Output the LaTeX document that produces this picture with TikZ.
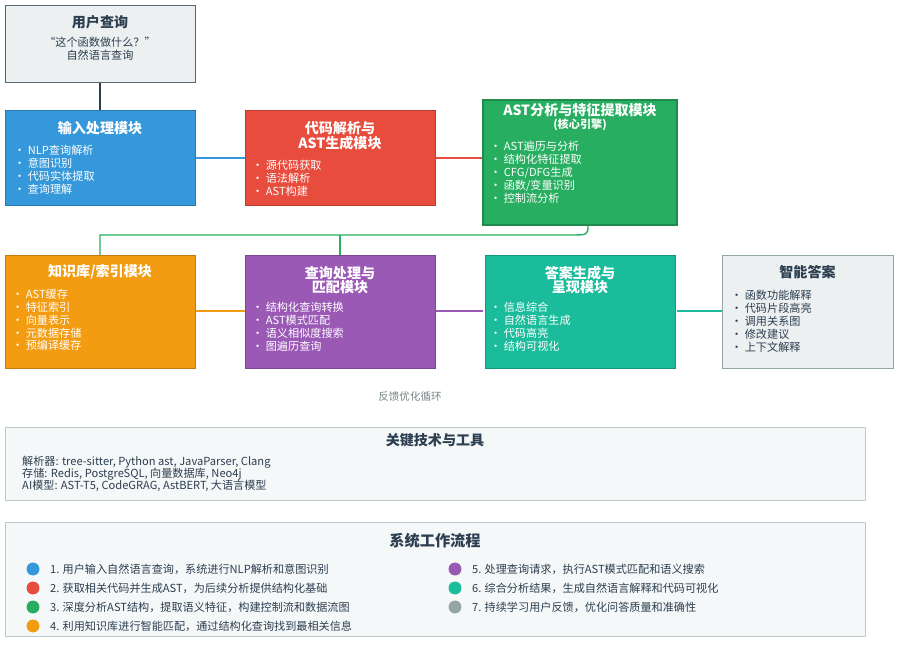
\documentclass[tikz,border=0pt]{standalone}
\usepackage{fontspec}
\setmainfont{Noto Sans CJK SC}
\usetikzlibrary{positioning}
\definecolor{cblue}{HTML}{3498DB}
\definecolor{cred}{HTML}{E74C3C}
\definecolor{cgreen}{HTML}{27AE60}
\definecolor{corange}{HTML}{F39C12}
\definecolor{cpurple}{HTML}{9B59B6}
\definecolor{cteal}{HTML}{1ABC9C}
\definecolor{cgray}{HTML}{95A5A6}
\definecolor{cdark}{HTML}{2C3E50}
\definecolor{clight}{HTML}{ECF0F1}
\tikzset{
  module/.style={draw=#1!80!black, fill=#1, text=white, minimum width=5.7cm, inner sep=0pt},
  title/.style={font=\bfseries\fontsize{12}{12.5}\selectfont, text=white, align=center},
  items/.style={font=\fontsize{9.5}{11}\selectfont, text=white, align=left, anchor=west, inner sep=0pt},
  link/.style={line width=1.2pt, draw=#1},
  panel/.style={draw=cgray!60, fill=clight!50, line width=0.6pt},
  flowstep/.style={font=\fontsize{9.5}{11}\selectfont, text=cdark, anchor=west},
  dot/.style={circle, fill=#1, minimum size=11pt, inner sep=0pt},
}
\begin{document}
\begin{tikzpicture}[x=0.03cm, y=-0.03cm]
	\useasboundingbox (0,0) rectangle (900,646);
	
	% Liaisons
	\draw[link=cdark] (100,82) -- (100,110);
	\draw[link=cblue] (195,158) -- (245,158);
	\draw[link=cred] (435,158) -- (483,158);
	\draw[link=cgreen] (588,225) .. controls (588,235) .. (570,235) -- (100,235) -- (100,255);
	\draw[link=cgreen] (340,235) -- (340,255);
	\draw[link=corange] (195,311) -- (245,311);
	\draw[link=cpurple] (435,311) -- (483,311);
	\draw[link=cteal] (677,311) -- (722,311);
	
	% Requete utilisateur
	\node[draw=cdark!80, fill=clight, line width=0.8pt, minimum width=5.7cm, minimum height=2.31cm] (query) at (100,43.5) {};
	\node[font=\bfseries\fontsize{12}{13}\selectfont, text=cdark] (qtitle) at (100,22) {用户查询};
	\node[font=\fontsize{9.5}{11}\selectfont, text=cdark, align=center, below=0pt of qtitle] (qtext) {“这个函数做什么？”\\自然语言查询};
	
	% Modules ligne 1
	\node[module=cblue, minimum height=2.85cm] (input) at (100,157.5) {};
	\node[title] (intitle) at (100,128) {输入处理模块};
	\node[items] at (14,170) {• NLP查询解析\\• 意图识别\\• 代码实体提取\\• 查询理解};
	
	\node[module=cred, minimum height=2.85cm] (parse) at (340,157.5) {};
	\node[title] at (340,136) {代码解析与\\AST生成模块};
	\node[items] at (252,178) {• 源代码获取\\• 语法解析\\• AST构建};
	
	\node[module=cgreen, line width=1.5pt, minimum width=5.82cm, minimum height=3.75cm] (ast) at (580,162.5) {};
	\node[title] at (580,117) {AST分析与特征提取模块\\[-2pt]{\fontsize{9.5}{10}\selectfont (核心引擎)}};
	\node[items] at (490,172) {• AST遍历与分析\\• 结构化特征提取\\• CFG/DFG生成\\• 函数/变量识别\\• 控制流分析};
	
	% Modules ligne 2
	\node[module=corange, minimum height=3.39cm] (kb) at (100,311.5) {};
	\node[title] at (100,272) {知识库/索引模块};
	\node[items] at (12,320) {• AST缓存\\• 特征索引\\• 向量表示\\• 元数据存储\\• 预编译缓存};
	
	\node[module=cpurple, minimum height=3.39cm] (match) at (340,311.5) {};
	\node[title] at (340,280) {查询处理与\\匹配模块};
	\node[items] at (252,327) {• 结构化查询转换\\• AST模式匹配\\• 语义相似度搜索\\• 图遍历查询};
	
	\node[module=cteal, minimum height=3.39cm] (gen) at (580,311.5) {};
	\node[title] at (580,280) {答案生成与\\呈现模块};
	\node[items] at (490,327) {• 信息综合\\• 自然语言生成\\• 代码高亮\\• 结构可视化};
	
	\node[draw=cgray, fill=clight, line width=0.8pt, minimum width=5.13cm, minimum height=3.39cm] (answer) at (807.5,311.5) {};
	\node[font=\bfseries\fontsize{12}{13}\selectfont, text=cdark] at (807.5,272) {智能答案};
	\node[items, text=cdark] at (731,321) {• 函数功能解释\\• 代码片段高亮\\• 调用关系图\\• 修改建议\\• 上下文解释};
	
	\node[font=\fontsize{9}{10}\selectfont, text=cgray!80!black] (loop) at (410,397) {反馈优化循环};
	
	% Technologies
	\node[panel, minimum width=25.8cm, minimum height=2.19cm] (tech) at (435,463.5) {};
	\node[font=\bfseries\fontsize{12}{13}\selectfont, text=cdark] at (435,440) {关键技术与工具};
	\node[font=\fontsize{9.5}{10.5}\selectfont, text=cdark, align=left, anchor=west, inner sep=0pt] at (22,474) {解析器: tree-sitter, Python ast, JavaParser, Clang\\存储: Redis, PostgreSQL, 向量数据库, Neo4j\\AI模型: AST-T5, CodeGRAG, AstBERT, 大语言模型};
	
	% Flux de travail
	\node[panel, minimum width=25.8cm, minimum height=3.42cm] (flow) at (435,579) {};
	\node[font=\bfseries\fontsize{13}{14}\selectfont, text=cdark] at (435,541) {系统工作流程};
	\foreach \c/\t [count=\i] in {cblue/1. 用户输入自然语言查询，系统进行NLP解析和意图识别,
		cred/2. 获取相关代码并生成AST，为后续分析提供结构化基础,
		cgreen/3. 深度分析AST结构，提取语义特征，构建控制流和数据流图,
		corange/4. 利用知识库进行智能匹配，通过结构化查询找到最相关信息}
	{
		\node[dot=\c] (d\i) at (33,{550+19*\i}) {};
		\node[flowstep] at (46,{550+19*\i}) {\t};
	}
	\foreach \c/\t [count=\i] in {cpurple/5. 处理查询请求，执行AST模式匹配和语义搜索,
		cteal/6. 综合分析结果，生成自然语言解释和代码可视化,
		cgray/7. 持续学习用户反馈，优化问答质量和准确性}
	{
		\node[dot=\c] (e\i) at (455,{550+19*\i}) {};
		\node[flowstep] at (468,{550+19*\i}) {\t};
	}
\end{tikzpicture}
\end{document}
